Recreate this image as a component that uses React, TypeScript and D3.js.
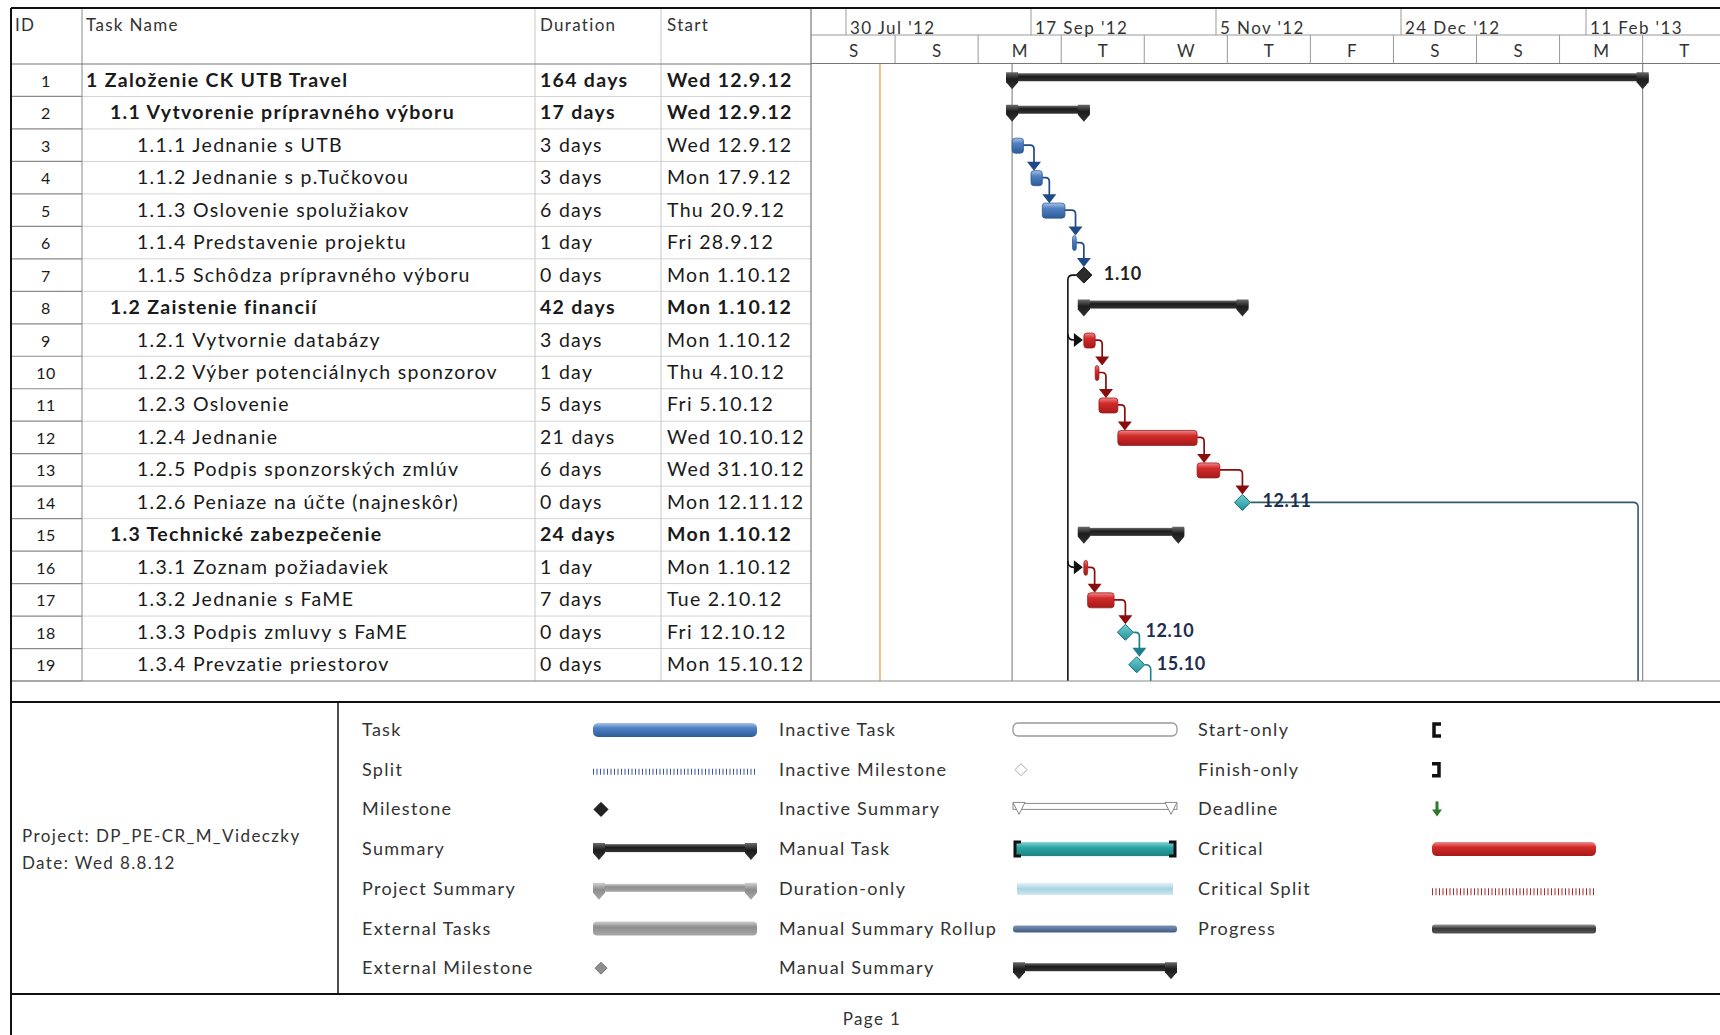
import React from 'react';
import * as d3 from 'd3';

// ---------- DATA ----------
const ids = [1, 2, 3, 4, 5, 6, 7, 8, 9, 10, 11, 12, 13, 14, 15, 16, 17, 18, 19];
const taskNames = [
  '1 Založenie CK UTB Travel',
  '1.1 Vytvorenie prípravného výboru',
  '1.1.1 Jednanie s UTB',
  '1.1.2 Jednanie s p.Tučkovou',
  '1.1.3 Oslovenie spolužiakov',
  '1.1.4 Predstavenie projektu',
  '1.1.5 Schôdza prípravného výboru',
  '1.2 Zaistenie financií',
  '1.2.1 Vytvornie databázy',
  '1.2.2 Výber potenciálnych sponzorov',
  '1.2.3 Oslovenie',
  '1.2.4 Jednanie',
  '1.2.5 Podpis sponzorských zmlúv',
  '1.2.6 Peniaze na účte (najneskôr)',
  '1.3 Technické zabezpečenie',
  '1.3.1 Zoznam požiadaviek',
  '1.3.2 Jednanie s FaME',
  '1.3.3 Podpis zmluvy s FaME',
  '1.3.4 Prevzatie priestorov',
];
const levels = [0, 1, 2, 2, 2, 2, 2, 1, 2, 2, 2, 2, 2, 2, 1, 2, 2, 2, 2];
const durations = ['164 days', '17 days', '3 days', '3 days', '6 days', '1 day', '0 days', '42 days', '3 days', '1 day', '5 days', '21 days', '6 days', '0 days', '24 days', '1 day', '7 days', '0 days', '0 days'];
const startTexts = ['Wed 12.9.12', 'Wed 12.9.12', 'Wed 12.9.12', 'Mon 17.9.12', 'Thu 20.9.12', 'Fri 28.9.12', 'Mon 1.10.12', 'Mon 1.10.12', 'Mon 1.10.12', 'Thu 4.10.12', 'Fri 5.10.12', 'Wed 10.10.12', 'Wed 31.10.12', 'Mon 12.11.12', 'Mon 1.10.12', 'Mon 1.10.12', 'Tue 2.10.12', 'Fri 12.10.12', 'Mon 15.10.12'];
const barKinds = ['summary', 'summary', 'task', 'task', 'task', 'task', 'milestone', 'summary', 'critical', 'critical', 'critical', 'critical', 'critical', 'milestoneTeal', 'summary', 'critical', 'critical', 'milestoneTeal', 'milestoneTeal'];
const barStarts = ['2012-09-12', '2012-09-12', '2012-09-12', '2012-09-17', '2012-09-20', '2012-09-28', '2012-10-01', '2012-10-01', '2012-10-01', '2012-10-04', '2012-10-05', '2012-10-10', '2012-10-31', '2012-11-12', '2012-10-01', '2012-10-01', '2012-10-02', '2012-10-12', '2012-10-15'];
const barEnds = ['2013-02-26', '2012-10-01', '2012-09-15', '2012-09-20', '2012-09-26', '2012-09-29', '2012-10-01', '2012-11-12', '2012-10-04', '2012-10-05', '2012-10-10', '2012-10-31', '2012-11-06', '2012-11-12', '2012-10-26', '2012-10-02', '2012-10-09', '2012-10-12', '2012-10-15'];
const milestoneLabels = ['', '', '', '', '', '', '1.10', '', '', '', '', '', '', '12.11', '', '', '', '12.10', '15.10'];

// links between rows (predecessor id, successor id, colour group)
const linkFrom = [3, 4, 5, 6, 9, 10, 11, 12, 13, 16, 17, 18];
const linkTo = [4, 5, 6, 7, 10, 11, 12, 13, 14, 17, 18, 19];
const linkGroup = ['blue', 'blue', 'blue', 'blue', 'red', 'red', 'red', 'red', 'red', 'red', 'red', 'teal'];
// links leaving the page (predecessor id, successor start date)
const offFrom = [14, 19];
const offStart = ['2013-02-24', '2012-10-15'];

const topTierDates = ['2012-07-30', '2012-09-17', '2012-11-05', '2012-12-24', '2013-02-11'];
const bottomTierDates = ['2012-07-21', '2012-08-12', '2012-09-03', '2012-09-25', '2012-10-17', '2012-11-08', '2012-11-30', '2012-12-22', '2013-01-13', '2013-02-04', '2013-02-26', '2013-03-20'];
const bottomTierLabels = ['S', 'S', 'M', 'T', 'W', 'T', 'F', 'S', 'S', 'M', 'T'];
const statusDate = '2012-08-08';
const projectStart = '2012-09-12';
const projectFinish = '2013-02-26';

const legendCol1 = ['Task', 'Split', 'Milestone', 'Summary', 'Project Summary', 'External Tasks', 'External Milestone'];
const legendCol2 = ['Inactive Task', 'Inactive Milestone', 'Inactive Summary', 'Manual Task', 'Duration-only', 'Manual Summary Rollup', 'Manual Summary'];
const legendCol3 = ['Start-only', 'Finish-only', 'Deadline', 'Critical', 'Critical Split', 'Progress'];

// ---------- LAYOUT ----------
const W = 1720;
const H = 1035;
const FONT = 'Lato, "Open Sans", sans-serif';
const parse = d3.utcParse('%Y-%m-%d');
const x = d3.scaleUtc().domain([parse('2012-07-30')!, parse('2012-09-17')!]).range([846, 1031]);
const y = d3.scaleBand<number>().domain(ids).range([64, 681]).padding(0);
const cy = (id: number) => (y(id) as number) + y.bandwidth() / 2;

const colX = { left: 11, id: 82, dur: 535, start: 661, gantt: 811 };
const linkColors: Record<string, string> = { blue: '#1f4a86', red: '#8a0d0d', teal: '#1d7f8e' };

function summaryShape(x1: number, x2: number, c: number, fill: string, key: string, stroke = 'none') {
  const cap = (cx: number) => `M${cx - 6},${c - 8} L${cx + 6},${c - 8} L${cx + 6},${c + 2} L${cx},${c + 9} L${cx - 6},${c + 2} Z`;
  return (
    <g key={key}>
      <rect x={x1 - 6} y={c - 7} width={x2 - x1 + 12} height={8} fill={fill} stroke={stroke} />
      <path d={cap(x1)} fill={fill} stroke={stroke} />
      <path d={cap(x2)} fill={fill} stroke={stroke} />
    </g>
  );
}

function diamond(cx: number, c: number, r: number, fill: string, stroke: string, key: string) {
  return <path key={key} d={`M${cx},${c - r} L${cx + r},${c} L${cx},${c + r} L${cx - r},${c} Z`} fill={fill} stroke={stroke} strokeWidth={1} />;
}

export default function App() {
  const rows = ids.map((id, i) => ({
    id,
    name: taskNames[i],
    level: levels[i],
    dur: durations[i],
    start: startTexts[i],
    kind: barKinds[i],
    s: parse(barStarts[i])!,
    e: parse(barEnds[i])!,
    label: milestoneLabels[i],
    bold: barKinds[i] === 'summary',
  }));
  const byId = (id: number) => rows[id - 1];
  const isMs = (k: string) => k.startsWith('milestone');

  const bars = rows.map((r) => {
    const c = cy(r.id);
    const xs = x(r.s);
    const xe = x(r.e);
    if (r.kind === 'summary') return summaryShape(xs, xe, c, 'url(#gSum)', `b${r.id}`);
    if (r.kind === 'milestone') return diamond(xs, c, 8, '#2b2b2b', '#111', `b${r.id}`);
    if (r.kind === 'milestoneTeal') return diamond(xs, c, 8, 'url(#gTeal)', '#1a6f78', `b${r.id}`);
    const fill = r.kind === 'critical' ? 'url(#gRed)' : 'url(#gBlue)';
    const stroke = r.kind === 'critical' ? '#9e1c1c' : '#2f5a93';
    return <rect key={`b${r.id}`} x={xs} y={c - 7} width={Math.max(3, xe - xs)} height={15} rx={3} fill={fill} stroke={stroke} strokeWidth={0.8} />;
  });

  const links = linkFrom.map((f, i) => {
    const a = byId(f);
    const b = byId(linkTo[i]);
    const col = linkColors[linkGroup[i]];
    const y1 = cy(a.id);
    const x1 = isMs(a.kind) ? x(a.s) + 8 : x(a.e);
    const nb = x(b.s);
    const xd = isMs(b.kind) ? Math.max(x1 + 6, nb) : Math.max(x1 + 7, nb + 3);
    const tip = cy(b.id) - (isMs(b.kind) ? 8 : 7);
    return (
      <g key={`l${i}`}>
        <path d={`M${x1},${y1} H${xd - 4} Q${xd},${y1} ${xd},${y1 + 4} V${tip - 5}`} fill="none" stroke={col} strokeWidth={1.7} />
        <path d={`M${xd - 7},${tip - 9} L${xd + 7},${tip - 9} L${xd},${tip} Z`} fill={col} />
      </g>
    );
  });

  const offLinks = offFrom.map((f, i) => {
    const a = byId(f);
    const y1 = cy(a.id);
    const x1 = x(a.s) + 8;
    const xd = Math.max(x1 + 6, x(parse(offStart[i])!) + 3);
    const col = f === 14 ? '#2f5c66' : linkColors.teal;
    return <path key={`o${i}`} d={`M${x1},${y1} H${xd - 5} Q${xd},${y1} ${xd},${y1 + 5} V681`} fill="none" stroke={col} strokeWidth={1.6} />;
  });

  // milestone 7 -> 9, 16 and beyond (start-aligned successors routed on the left)
  const m7 = byId(7);
  const vx = x(m7.s) - 16;
  const y7 = cy(7);
  const leftRoute = (
    <g>
      <path d={`M${x(m7.s) - 8},${y7} H${vx + 5} Q${vx},${y7} ${vx},${y7 + 5} V681`} fill="none" stroke="#111" strokeWidth={1.6} />
      {[9, 16].map((t) => {
        const yy = cy(t);
        const tip = x(byId(t).s) - 1;
        return (
          <g key={`r${t}`}>
            <path d={`M${vx},${yy - 6} Q${vx},${yy} ${vx + 6},${yy} H${tip - 6}`} fill="none" stroke="#111" strokeWidth={1.6} />
            <path d={`M${tip - 9},${yy - 7} L${tip - 9},${yy + 7} L${tip},${yy} Z`} fill="#111" />
          </g>
        );
      })}
    </g>
  );

  const fmtTop = d3.utcFormat("%-d %b '%y");
  const topDates = topTierDates.map((d) => parse(d)!);
  const botDates = bottomTierDates.map((d) => parse(d)!);

  const rowLines = ids.map((id) => (y(id) as number) + y.bandwidth());

  const legendRowsY = d3.range(7).map((i) => 730 + i * 39.7);
  const lc1 = 362, ls1 = 593, lc2 = 779, ls2 = 1013, lc3 = 1198, ls3 = 1432, lw = 164;

  return (
    <svg width={W} height={H} style={{ position: 'absolute', left: 0, top: 0, background: '#fff' }} fontFamily={FONT}>
      <defs>
        <linearGradient id="gBlue" x1="0" y1="0" x2="0" y2="1">
          <stop offset="0" stopColor="#a9c4e8" />
          <stop offset="0.35" stopColor="#4f81c2" />
          <stop offset="1" stopColor="#2d5b98" />
        </linearGradient>
        <linearGradient id="gRed" x1="0" y1="0" x2="0" y2="1">
          <stop offset="0" stopColor="#f08a8a" />
          <stop offset="0.35" stopColor="#d42a2a" />
          <stop offset="1" stopColor="#a41a1a" />
        </linearGradient>
        <linearGradient id="gSum" x1="0" y1="0" x2="0" y2="1">
          <stop offset="0" stopColor="#6a6a6a" />
          <stop offset="0.4" stopColor="#1c1c1c" />
          <stop offset="1" stopColor="#333" />
        </linearGradient>
        <linearGradient id="gGray" x1="0" y1="0" x2="0" y2="1">
          <stop offset="0" stopColor="#d0d0d0" />
          <stop offset="0.4" stopColor="#8d8d8d" />
          <stop offset="1" stopColor="#a8a8a8" />
        </linearGradient>
        <linearGradient id="gProg" x1="0" y1="0" x2="0" y2="1">
          <stop offset="0" stopColor="#999" />
          <stop offset="0.45" stopColor="#3a3a3a" />
          <stop offset="1" stopColor="#555" />
        </linearGradient>
        <linearGradient id="gTeal" x1="0" y1="0" x2="0" y2="1">
          <stop offset="0" stopColor="#6fd0d4" />
          <stop offset="1" stopColor="#21939c" />
        </linearGradient>
        <linearGradient id="gManual" x1="0" y1="0" x2="0" y2="1">
          <stop offset="0" stopColor="#7fd6d3" />
          <stop offset="0.4" stopColor="#2aa3a0" />
          <stop offset="1" stopColor="#1d8583" />
        </linearGradient>
        <linearGradient id="gDur" x1="0" y1="0" x2="0" y2="1">
          <stop offset="0" stopColor="#e6f3f8" />
          <stop offset="0.5" stopColor="#a8d3e3" />
          <stop offset="1" stopColor="#c9e5ef" />
        </linearGradient>
        <linearGradient id="gRoll" x1="0" y1="0" x2="0" y2="1">
          <stop offset="0" stopColor="#7d93b3" />
          <stop offset="1" stopColor="#3d5a82" />
        </linearGradient>
        <clipPath id="ganttClip">
          <rect x={colX.gantt} y={8} width={W - colX.gantt} height={675} />
        </clipPath>
      </defs>

      {/* ---- table grid ---- */}
      {rowLines.map((yy, i) => (
        <g key={`rl${i}`}>
          <line x1={colX.left} x2={colX.id} y1={yy} y2={yy} stroke="#8a8a8a" strokeWidth={1.2} />
          <line x1={colX.id} x2={colX.gantt} y1={yy} y2={yy} stroke="#d4d4d4" strokeWidth={1} />
        </g>
      ))}
      {[colX.id, colX.dur, colX.start].map((cx, i) => (
        <line key={`cv${i}`} x1={cx} x2={cx} y1={8} y2={681} stroke={i === 0 ? '#8a8a8a' : '#c8c8c8'} strokeWidth={1} />
      ))}
      <line x1={colX.left} x2={colX.gantt} y1={64} y2={64} stroke="#777" strokeWidth={1.2} />

      {/* header text */}
      <g fontSize={17} fill="#333" letterSpacing={1.3}>
        <text x={15} y={31}>ID</text>
        <text x={86} y={31}>Task Name</text>
        <text x={540} y={31}>Duration</text>
        <text x={667} y={31}>Start</text>
      </g>

      {/* rows */}
      {rows.map((r) => {
        const yy = cy(r.id) + 6.5;
        const nx = r.level === 0 ? 86 : r.level === 1 ? 110 : 137;
        return (
          <g key={`t${r.id}`} fontSize={19.5} fill="#1a1a1a" fontWeight={r.bold ? 700 : 400} letterSpacing={1.3}>
            <text x={46} y={yy} textAnchor="middle" fontWeight={400} fontSize={16} letterSpacing={0.5}>{r.id}</text>
            <text x={nx} y={yy}>{r.name}</text>
            <text x={540} y={yy}>{r.dur}</text>
            <text x={667} y={yy}>{r.start}</text>
          </g>
        );
      })}

      {/* ---- gantt header ---- */}
      <line x1={colX.gantt} x2={W} y1={35} y2={35} stroke="#999" strokeWidth={1} />
      <line x1={colX.gantt} x2={W} y1={63.5} y2={63.5} stroke="#777" strokeWidth={1.2} />
      <line x1={colX.gantt} x2={colX.gantt} y1={8} y2={681} stroke="#777" strokeWidth={1.2} />
      {topDates.map((d, i) => (
        <g key={`tt${i}`}>
          <line x1={x(d)} x2={x(d)} y1={8} y2={35} stroke="#999" />
          <text x={x(d) + 4} y={34} fontSize={17} fill="#333" letterSpacing={1.4}>{fmtTop(d)}</text>
        </g>
      ))}
      {botDates.slice(0, -1).map((d, i) => {
        const x1 = Math.max(x(d), colX.gantt);
        const x2 = x(botDates[i + 1]);
        return (
          <g key={`bt${i}`}>
            {i > 0 && <line x1={x1} x2={x1} y1={35} y2={63} stroke="#999" />}
            <text x={(x1 + x2) / 2} y={57} fontSize={17} fill="#333" textAnchor="middle">{bottomTierLabels[i]}</text>
          </g>
        );
      })}

      {/* ---- gantt body ---- */}
      <g clipPath="url(#ganttClip)">
        <line x1={x(parse(statusDate)!)} x2={x(parse(statusDate)!)} y1={64} y2={681} stroke="#f2b06a" strokeWidth={1.6} />
        <line x1={x(parse(projectStart)!)} x2={x(parse(projectStart)!)} y1={64} y2={681} stroke="#8c8c8c" strokeWidth={1.2} />
        <line x1={x(parse(projectFinish)!)} x2={x(parse(projectFinish)!)} y1={64} y2={681} stroke="#8c8c8c" strokeWidth={1.2} />
        {offLinks}
        {leftRoute}
        {links}
        {bars}
        {rows.filter((r) => r.label).map((r) => (
          <text key={`ml${r.id}`} x={x(r.s) + 20} y={cy(r.id) + 5} fontSize={18} fontWeight={700} letterSpacing={0.6} fill={r.kind === 'milestone' ? '#222' : '#1e2e4e'}>{r.label}</text>
        ))}
      </g>

      {/* table bottom */}
      <line x1={colX.left} x2={W} y1={681} y2={681} stroke="#888" strokeWidth={1.2} />

      {/* ---- legend ---- */}
      <line x1={colX.left} x2={W} y1={702} y2={702} stroke="#111" strokeWidth={2} />
      <line x1={colX.left} x2={W} y1={994} y2={994} stroke="#111" strokeWidth={2} />
      <line x1={338} x2={338} y1={702} y2={994} stroke="#111" strokeWidth={1.5} />
      <g fontSize={17} fill="#333" letterSpacing={1.4}>
        <text x={22} y={842}>Project: DP_PE-CR_M_Videczky</text>
        <text x={22} y={869}>Date: Wed 8.8.12</text>
        <text x={872} y={1025} textAnchor="middle">Page 1</text>
      </g>

      <g fontSize={18} fill="#333" letterSpacing={1.3}>
        {legendCol1.map((t, i) => <text key={`a${i}`} x={lc1} y={legendRowsY[i] + 6}>{t}</text>)}
        {legendCol2.map((t, i) => <text key={`b${i}`} x={lc2} y={legendRowsY[i] + 6}>{t}</text>)}
        {legendCol3.map((t, i) => <text key={`c${i}`} x={lc3} y={legendRowsY[i] + 6}>{t}</text>)}
      </g>

      {/* col1 symbols */}
      <rect x={ls1} y={legendRowsY[0] - 7} width={lw} height={14} rx={5} fill="url(#gBlue)" />
      <line x1={ls1} x2={ls1 + lw} y1={legendRowsY[1] + 2} y2={legendRowsY[1] + 2} stroke="#3b55a0" strokeWidth={6} strokeDasharray="1 2.5" />
      {diamond(ls1 + 8, legendRowsY[2], 7, '#222', '#111', 'lm1')}
      {summaryShape(ls1 + 6, ls1 + lw - 6, legendRowsY[3] + 2, 'url(#gSum)', 'ls1')}
      {summaryShape(ls1 + 6, ls1 + lw - 6, legendRowsY[4] + 2, 'url(#gGray)', 'lps')}
      <rect x={ls1} y={legendRowsY[5] - 7} width={lw} height={14} rx={4} fill="url(#gGray)" />
      {diamond(ls1 + 8, legendRowsY[6], 6, '#8e8e8e', '#777', 'lem')}

      {/* col2 symbols */}
      <rect x={ls2} y={legendRowsY[0] - 7} width={lw} height={13} rx={5} fill="#fff" stroke="#999" strokeWidth={1.3} />
      {diamond(ls2 + 8, legendRowsY[1], 6, '#fff', '#aaa', 'lim')}
      <g>
        <rect x={ls2} y={legendRowsY[2] - 6} width={lw} height={6} fill="#fff" stroke="#888" />
        <path d={`M${ls2},${legendRowsY[2] - 7} L${ls2 + 12},${legendRowsY[2] - 7} L${ls2 + 6},${legendRowsY[2] + 5} Z`} fill="#fff" stroke="#888" />
        <path d={`M${ls2 + lw - 12},${legendRowsY[2] - 7} L${ls2 + lw},${legendRowsY[2] - 7} L${ls2 + lw - 6},${legendRowsY[2] + 5} Z`} fill="#fff" stroke="#888" />
      </g>
      <g>
        <rect x={ls2 + 3} y={legendRowsY[3] - 7} width={lw - 6} height={14} fill="url(#gManual)" />
        <path d={`M${ls2 + 8},${legendRowsY[3] - 7} H${ls2 + 2} V${legendRowsY[3] + 7} H${ls2 + 8}`} fill="none" stroke="#111" strokeWidth={3} />
        <path d={`M${ls2 + lw - 8},${legendRowsY[3] - 7} H${ls2 + lw - 2} V${legendRowsY[3] + 7} H${ls2 + lw - 8}`} fill="none" stroke="#111" strokeWidth={3} />
      </g>
      <rect x={ls2 + 4} y={legendRowsY[4] - 6} width={lw - 8} height={12} fill="url(#gDur)" />
      <rect x={ls2} y={legendRowsY[5] - 3} width={lw} height={7} rx={3} fill="url(#gRoll)" />
      {summaryShape(ls2 + 6, ls2 + lw - 6, legendRowsY[6] + 2, 'url(#gSum)', 'lms')}

      {/* col3 symbols */}
      <path d={`M${ls3 + 9},${legendRowsY[0] - 6} H${ls3 + 2} V${legendRowsY[0] + 6} H${ls3 + 9}`} fill="none" stroke="#111" strokeWidth={3.5} />
      <path d={`M${ls3},${legendRowsY[1] - 6} H${ls3 + 7} V${legendRowsY[1] + 6} H${ls3}`} fill="none" stroke="#111" strokeWidth={3.5} />
      <g>
        <line x1={ls3 + 5} x2={ls3 + 5} y1={legendRowsY[2] - 8} y2={legendRowsY[2] + 2} stroke="#2f7a2f" strokeWidth={3} />
        <path d={`M${ls3},${legendRowsY[2]} L${ls3 + 10},${legendRowsY[2]} L${ls3 + 5},${legendRowsY[2] + 7} Z`} fill="#2f7a2f" />
      </g>
      <rect x={ls3} y={legendRowsY[3] - 7} width={lw} height={14} rx={5} fill="url(#gRed)" />
      <line x1={ls3} x2={ls3 + lw} y1={legendRowsY[4] + 3} y2={legendRowsY[4] + 3} stroke="#b02a2a" strokeWidth={7} strokeDasharray="1 2.5" />
      <rect x={ls3} y={legendRowsY[5] - 4} width={lw} height={9} rx={3} fill="url(#gProg)" />

      {/* outer border */}
      <line x1={colX.left} x2={W} y1={8} y2={8} stroke="#111" strokeWidth={2} />
      <line x1={colX.left} x2={colX.left} y1={8} y2={H} stroke="#111" strokeWidth={2} />
    </svg>
  );
}
